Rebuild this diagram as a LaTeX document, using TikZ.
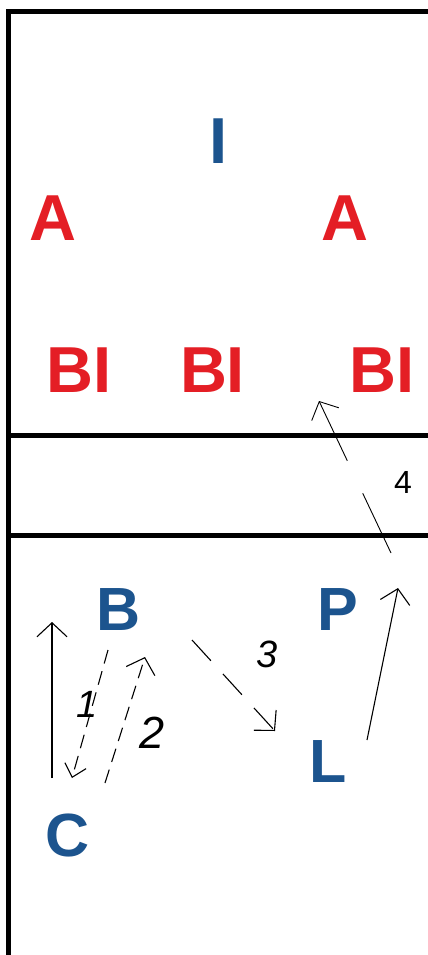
\documentclass[tikz,border=0pt]{standalone}
\usepackage{fontspec}
\setmainfont{Liberation Sans}
\usetikzlibrary{arrows.meta}
\definecolor{teamred}{RGB}{228,30,37}
\definecolor{teamblue}{RGB}{28,84,142}
\begin{document}
\begin{tikzpicture}[x=1pt,y=-1pt,
  court/.style={line width=4.2pt},
  opp/.style={font=\bfseries\fontsize{65}{65}\selectfont, text=teamred, inner sep=0pt, anchor=base},
  own/.style={font=\bfseries\fontsize{65}{65}\selectfont, text=teamblue, inner sep=0pt, anchor=base},
  ownsm/.style={font=\bfseries\fontsize{61}{61}\selectfont, text=teamblue, inner sep=0pt, anchor=base},
  num/.style={font=\itshape\fontsize{38}{38}\selectfont, inner sep=0pt, anchor=base},
  tipbarb/.style={-{Straight Barb[length=14pt,width=30pt]}},
  smallbarb/.style={-{Straight Barb[length=12pt,width=22pt]}},
  mv/.style={line width=1.1pt, tipbarb},
  mvdash/.style={line width=1.1pt, tipbarb, dash pattern=on 14pt off 8pt},
  mvlong/.style={line width=1.1pt, tipbarb, dash pattern=on 28pt off 18pt},
  ball/.style={line width=0.9pt, tipbarb, dash pattern=on 66pt off 36pt}]
\useasboundingbox (0,0) rectangle (428,955);

% court lines
\draw[court] (430,11.5) -- (8.5,11.5) -- (8.5,958);
\draw[court] (8.5,435.5) -- (430,435.5);
\draw[court] (8.5,535.5) -- (430,535.5);

% opposing side
\node[own] (i) at (219,163) {I};
\node[opp] (a1) at (52.5,240) {A};
\node[opp] (a2) at (344.5,240) {A};
\node[opp] (bl1) at (79,392) {BI};
\node[opp] (bl2) at (212.5,392) {BI};
\node[opp] (bl3) at (382,392) {BI};

% own side
\node[ownsm] (b) at (118.5,630) {B};
\node[ownsm] (p) at (337.5,630) {P};
\node[ownsm] (l) at (328,782) {L};
\node[ownsm] (c) at (68,856) {C};

% movement end points
\coordinate (c0) at (52,778);
\coordinate (c1) at (52,622);
\coordinate (p1s) at (108,650);
\coordinate (p1e) at (72,778);
\coordinate (p2s) at (105,783);
\coordinate (p2e) at (145,657);
\coordinate (p3s) at (192,640);
\coordinate (p3e) at (275,731);
\coordinate (ls) at (367,740);
\coordinate (le) at (398,588);
\coordinate (p4s) at (391,553);
\coordinate (p4e) at (319,401);

\draw[mv] (c0) -- (c1);
\draw[mvdash, smallbarb] (p1s) -- (p1e);
\draw[mvdash] (p2s) -- (p2e);
\draw[mvlong] (p3s) -- (p3e);
\draw[mv] (ls) -- (le);
\draw[ball] (p4s) -- (p4e);

% sequence numbers
\node[num] (n1) at (87,717) {1};
\node[num, font=\itshape\fontsize{45}{45}\selectfont] (n2) at (152,748) {2};
\node[num] (n3) at (267.5,667) {3};
\node[num, font=\fontsize{32}{32}\selectfont] (n4) at (403,493) {4};
\end{tikzpicture}
\end{document}
